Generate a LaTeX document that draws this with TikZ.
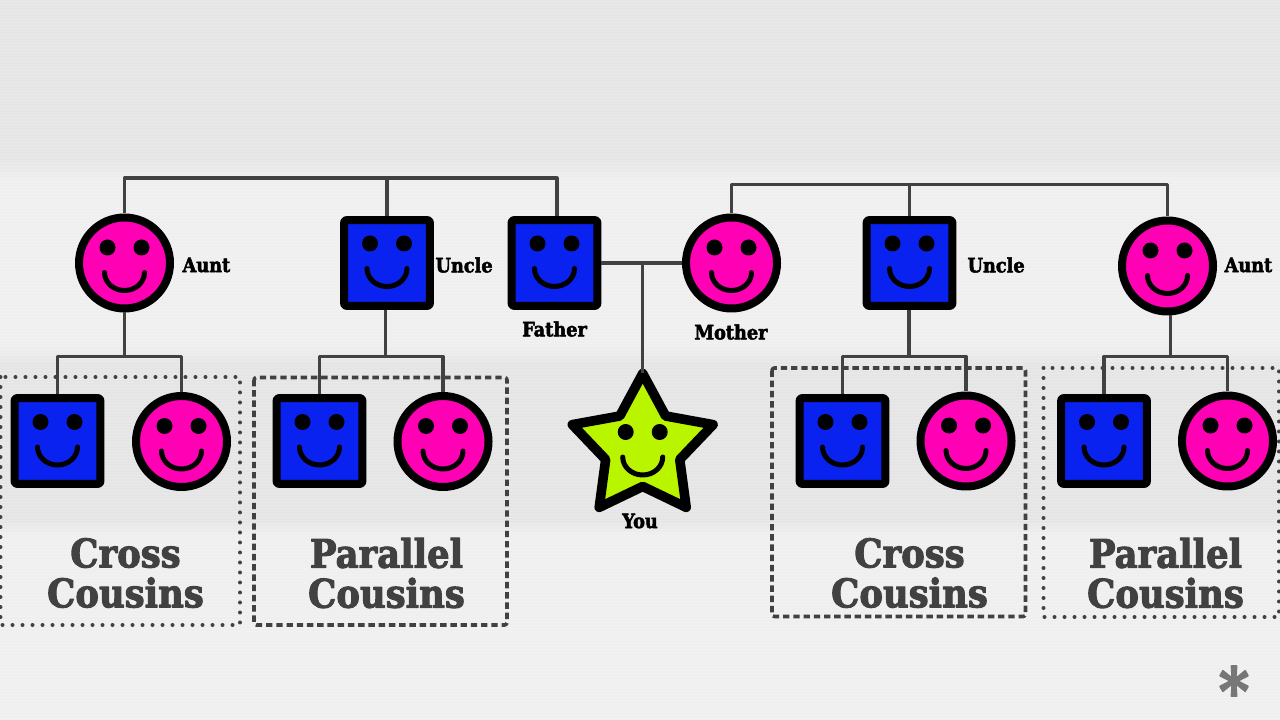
\documentclass[tikz,border=0pt]{standalone}
\usepackage{fontspec}
\newfontfamily\slabfont{DejaVu Serif Condensed Bold}[FakeBold=2.5]
\usetikzlibrary{shapes.geometric}
\definecolor{paper}{HTML}{EFEFEF}
\definecolor{shadow}{HTML}{E5E5E5}
\definecolor{ink}{HTML}{414141}
\definecolor{hotpink}{HTML}{FF00B4}
\definecolor{royal}{HTML}{0A22F0}
\definecolor{lime}{HTML}{BAF500}
\definecolor{starry}{HTML}{777777}
\tikzset{
  face/.style={draw=black,line width=1mm,inner sep=0pt},
  girl/.style={face,circle,fill=hotpink,minimum size=11.375mm},
  boy/.style={face,rectangle,fill=royal,rounded corners=.25mm,minimum size=10.7mm},
  link/.style={draw=ink,line width=.4mm},
  dashbox/.style={draw=ink,line width=.45mm,rounded corners=.3mm,dash pattern=on .8mm off .48mm},
  dotbox/.style={draw=ink,line width=.5mm,line cap=round,dash pattern=on 0pt off 1.25mm},
  smalllabel/.style={text=black,font=\slabfont\fontsize{7}{8}\selectfont,inner sep=0pt},
  biglabel/.style={text=ink,font=\slabfont\fontsize{14}{14.2}\selectfont,align=center,inner sep=0pt}
}
% #1 centre x, #2 height of the eyes
\newcommand{\happyface}[2]{%
  \fill[black] (#1-17,#2) circle (1mm) (#1+17,#2) circle (1mm);
  \draw[black,line width=.625mm,line cap=round] (#1-20,#2+25) arc[start angle=180,end angle=360,x radius=2.5mm,y radius=2.25mm];
}

\begin{document}
\begin{tikzpicture}[x=.125mm,y=-.125mm,line join=round]
  \path[use as bounding box] (0,0) rectangle (1280,720);
  \fill[paper] (0,0) rectangle (1280,720);
  \fill[shadow] (0,0) rectangle (1280,160);
  \shade[top color=shadow,bottom color=paper] (0,160) rectangle (1280,180);
  \shade[top color=paper,bottom color=shadow] (0,345) rectangle (1280,365);
  \fill[shadow] (0,365) rectangle (1280,520);
  \shade[top color=shadow,bottom color=paper] (0,520) rectangle (1280,535);
  % paper grain
  \foreach \y in {1,4,...,720}{
    \draw[white,opacity=.18,line width=.12mm] (0,\y) -- (1280,\y);
  }

  % boxes round the cousins
  \draw[dotbox] (.5,377) rectangle (240,625);
  \draw[dashbox] (254,377.5) rectangle (507,625);
  \draw[dashbox] (772,368) rectangle (1025.5,616.5);
  \draw[dotbox] (1043.5,368) rectangle (1279,617);

  % parents' generation
  \node[girl] (auntL) at (124.5,263) {};
  \node[boy] (uncleL) at (387,263) {};
  \node[boy] (father) at (554.5,263) {};
  \node[girl] (mother) at (731.5,263) {};
  \node[boy] (uncleR) at (909.5,263) {};
  \node[girl] (auntR) at (1167.5,266) {};

  % cousins
  \node[boy] (boyA) at (57.5,441) {};
  \node[girl] (girlA) at (181.5,441.5) {};
  \node[boy] (boyB) at (319.5,441) {};
  \node[girl] (girlB) at (443,441.5) {};
  \node[boy] (boyC) at (842.5,441) {};
  \node[girl] (girlC) at (966,441) {};
  \node[boy] (boyD) at (1104,441) {};
  \node[girl] (girlD) at (1227.5,441) {};

  \node[face,line width=1.2mm,star,star points=5,star point ratio=1.9,fill=lime,minimum size=18.5mm,outer sep=0pt] (you) at (642.7,447.5) {};

  \foreach \x/\e in {124.5/247.5,1167.5/250.5,731.5/247.5,181.5/426,443/426,966/425.5,1227.5/425.5,
    387/243.5,554.5/243.5,909.5/243.5,57.5/422,319.5/422,842.5/422,1104/422,642.7/432}{
    \happyface{\x}{\e}
  }

  % connectors
  \coordinate (busL) at (0,178);
  \coordinate (busR) at (0,184.5);
  \coordinate (busK) at (0,356.5);
  \coordinate (fatherTop) at (557,216);
  \draw[link] (auntL.north) -- (auntL.north |- busL) -- (fatherTop |- busL) -- (fatherTop);
  \draw[link] (uncleL.north) -- (uncleL.north |- busL);
  \draw[link] (mother.north) -- (mother.north |- busR) -- (auntR.north |- busR) -- (auntR.north);
  \draw[link] (uncleR.north) -- (uncleR.north |- busR);
  \draw[link] (father.east) -- (mother.west);
  \draw[link] (you.north |- father.east) -- (you.north);
  \foreach \p/\a/\b/\s in {auntL/boyA/girlA/0,uncleL/boyB/girlB/-1.4,uncleR/boyC/girlC/-.5,auntR/boyD/girlD/3}{
    \draw[link] ([xshift=\s*.125mm]\p.south) -- ([xshift=\s*.125mm]\p.south |- busK);
    \draw[link] (\a.north) -- (\a.north |- busK) -- (\b.north |- busK) -- (\b.north);
  }

  % names
  \node[smalllabel,anchor=west] (labelAuntL) at (182,265) {Aunt};
  \node[smalllabel,anchor=west] (labelUncleL) at (435,265) {Uncle};
  \node[smalllabel] (labelFather) at (554.5,329) {Father};
  \node[smalllabel] (labelMother) at (731,332) {Mother};
  \node[smalllabel] (labelYou) at (640,521) {You};
  \node[smalllabel,anchor=west] (labelUncleR) at (967,265) {Uncle};
  \node[smalllabel,anchor=west] (labelAuntR) at (1224,265) {Aunt};

  \node[biglabel] (crossL) at (125.5,573) {Cross\\Cousins};
  \node[biglabel] (parallelL) at (386.5,573) {Parallel\\Cousins};
  \node[biglabel] (crossR) at (909.5,573) {Cross\\Cousins};
  \node[biglabel] (parallelR) at (1165.5,573) {Parallel\\Cousins};

  \node[text=starry,font=\slabfont\fontsize{23}{23}\selectfont,inner sep=0pt] (note) at (1234,690) {*};
\end{tikzpicture}
\end{document}
